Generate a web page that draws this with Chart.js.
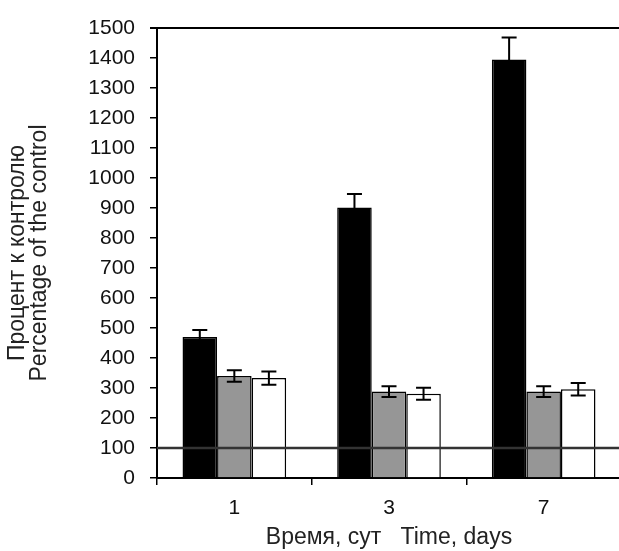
<!DOCTYPE html>
<html>
<head>
<meta charset="utf-8">
<script src="https://cdn.jsdelivr.net/npm/chart.js@4"></script>
<style>
    html, body { margin: 0; padding: 0; overflow: hidden; background: #fff; }
</style>
</head>
<body>
<canvas id="myChart" width="623" height="551"></canvas>
<script>
const days = ['1', '3', '7'];
const blackValues = [470, 902, 1395];
const blackErrors = [23, 45, 73];
const greyValues = [340, 288, 288];
const greyErrors = [19, 18, 18];
const whiteValues = [333, 281, 296];
const whiteErrors = [22, 20, 21];
const controlLevel = 100;
const yTitle = ['Процент к контролю', 'Percentage of the control'];
const xTitle = 'Время, сут   Time, days';

const errors = [blackErrors, greyErrors, whiteErrors];
const family = 'Liberation Sans, Arial, sans-serif';
const tickFont = { family: family, size: 21 };
const titleFont = { family: family, size: 23, lineHeight: '22px' };

// error bars + control line + top frame line
const extras = {
    id: 'extras',
    afterDatasetsDraw(chart) {
        const ctx = chart.ctx;
        const y = chart.scales.y;
        const area = chart.chartArea;
        ctx.save();
        chart.data.datasets.forEach((ds, d) => {
            const meta = chart.getDatasetMeta(d);
            meta.data.forEach((bar, i) => {
                const v = ds.data[i];
                const e = errors[d][i];
                const top = y.getPixelForValue(v + e);
                const bot = y.getPixelForValue(v - e);
                ctx.strokeStyle = '#000';
                ctx.lineWidth = 2;
                ctx.beginPath();
                ctx.moveTo(bar.x, top);
                ctx.lineTo(bar.x, bot);
                ctx.moveTo(bar.x - 7.5, top);
                ctx.lineTo(bar.x + 7.5, top);
                ctx.moveTo(bar.x - 7.5, bot);
                ctx.lineTo(bar.x + 7.5, bot);
                ctx.stroke();
            });
        });
        const cy = y.getPixelForValue(controlLevel);
        ctx.strokeStyle = '#333';
        ctx.lineWidth = 2.5;
        ctx.beginPath();
        ctx.moveTo(area.left, cy);
        ctx.lineTo(area.right + 5, cy);
        ctx.stroke();
        const ty = y.getPixelForValue(1500);
        ctx.strokeStyle = '#000';
        ctx.lineWidth = 2;
        ctx.beginPath();
        ctx.moveTo(area.left - 7, ty);
        ctx.lineTo(area.right + 5, ty);
        ctx.stroke();
        ctx.restore();
    }
};

const ctx = document.getElementById('myChart').getContext('2d');

const myChart = new Chart(ctx, {
    type: 'bar',
    data: {
        labels: days,
        datasets: [{
            data: blackValues,
            backgroundColor: '#000',
            borderColor: '#000',
            borderWidth: 1.5
        }, {
            data: greyValues,
            backgroundColor: '#969696',
            borderColor: '#000',
            borderWidth: 1.5
        }, {
            data: whiteValues,
            backgroundColor: '#fff',
            borderColor: '#000',
            borderWidth: 1.5
        }]
    },
    options: {
        responsive: false,
        animation: false,
        categoryPercentage: 0.67,
        barPercentage: 1.0,
        layout: { padding: { top: 28, right: 2, left: 0, bottom: 0 } },
        plugins: {
            legend: { display: false },
            tooltip: { enabled: false }
        },
        scales: {
            x: {
                grid: {
                    offset: true,
                    drawOnChartArea: false,
                    drawTicks: true,
                    tickLength: 7,
                    color: '#000',
                    lineWidth: 1.5
                },
                border: { color: '#000', width: 2 },
                ticks: { color: '#111', font: tickFont, padding: 11 },
                title: {
                    display: true,
                    text: xTitle,
                    color: '#222',
                    font: { family: family, size: 23, lineHeight: '24px' },
                    padding: { top: 0, bottom: 1 }
                },
                afterFit(scale) { scale.height = 73; }
            },
            y: {
                min: 0,
                max: 1500,
                ticks: {
                    stepSize: 100,
                    color: '#111',
                    font: tickFont,
                    padding: 15,
                    callback: (v) => String(v)
                },
                grid: {
                    drawOnChartArea: false,
                    drawTicks: true,
                    tickLength: 7,
                    color: '#000',
                    lineWidth: 1.5
                },
                border: { color: '#000', width: 2 },
                title: {
                    display: true,
                    text: yTitle,
                    color: '#222',
                    font: titleFont,
                    padding: { top: 7, bottom: 0 }
                },
                afterFit(scale) { scale.width = 157; }
            }
        }
    },
    plugins: [extras]
});
</script>
</body>
</html>
